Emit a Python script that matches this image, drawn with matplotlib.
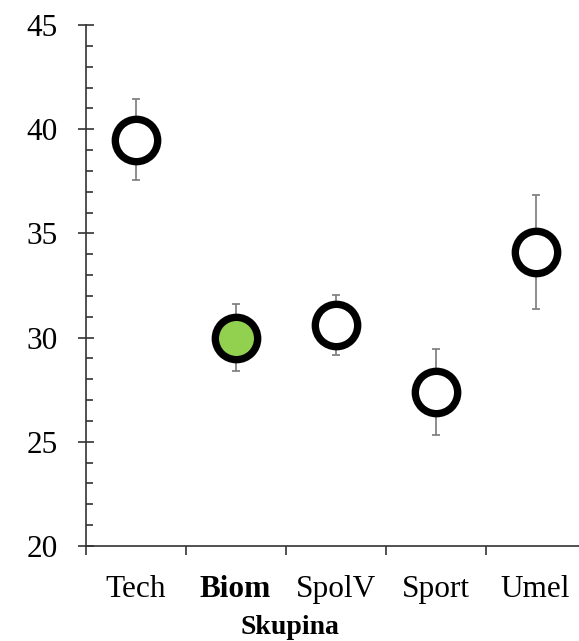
import matplotlib
matplotlib.use("Agg")
import matplotlib.pyplot as plt
import numpy as np

categories = ["Tech", "Biom", "SpolV", "Sport", "Umel"]
means = [39.5, 30.0, 30.6, 27.4, 34.1]
errors = [1.95, 1.6, 1.45, 2.05, 2.75]
highlight = "Biom"
y_ticks = [20, 25, 30, 35, 40, 45]

plt.rcParams['font.family'] = ['Liberation Serif', 'DejaVu Serif']

fig = plt.figure(figsize=(5.79, 6.41), dpi=100)
ax = fig.add_axes([85.5/579, 95/641, 500/579, 521/641])

x = np.arange(len(categories))
for xi, m, e, c in zip(x, means, errors, categories):
    ax.errorbar(xi, m, yerr=e, fmt='none', ecolor='#7a7a7a', elinewidth=1.2,
                capsize=3, capthick=1.2, zorder=2)
    face = '#92D050' if c == highlight else 'white'
    ax.plot(xi, m, 'o', ms=30.5, mew=5.3, mfc=face, mec='black', zorder=3)

ax.set_xlim(-0.5, len(categories) - 0.5)
ax.set_ylim(20, 45)
ax.set_yticks(y_ticks)
ax.set_yticks(np.arange(20, 46, 1), minor=True)
ax.tick_params(axis='y', which='major', direction='inout', length=12, width=1.2,
               labelsize=22.5, pad=14, color='#333333')
ax.tick_params(axis='y', which='minor', direction='in', length=5, width=1.2,
               color='#333333')

ax.set_xticks(np.arange(-0.5, len(categories), 1))
ax.set_xticklabels([])
ax.set_xticks(x, minor=True)
ax.set_xticklabels(categories, minor=True)
ax.tick_params(axis='x', which='major', direction='out', length=6.5, width=1.2,
               color='#333333')
ax.tick_params(axis='x', which='minor', length=0, labelsize=22.5, pad=21)
for lbl in ax.get_xticklabels(minor=True):
    if lbl.get_text() == highlight:
        lbl.set_fontweight('bold')

for s in ['top', 'right']:
    ax.spines[s].set_visible(False)
for s in ['left', 'bottom']:
    ax.spines[s].set_color('#333333')
    ax.spines[s].set_linewidth(1.2)

fig.text(0.5, 1 - 628/641, "Skupina", ha='center', va='center',
         fontsize=20, fontweight='bold')

fig.savefig("out.png", dpi=100)
